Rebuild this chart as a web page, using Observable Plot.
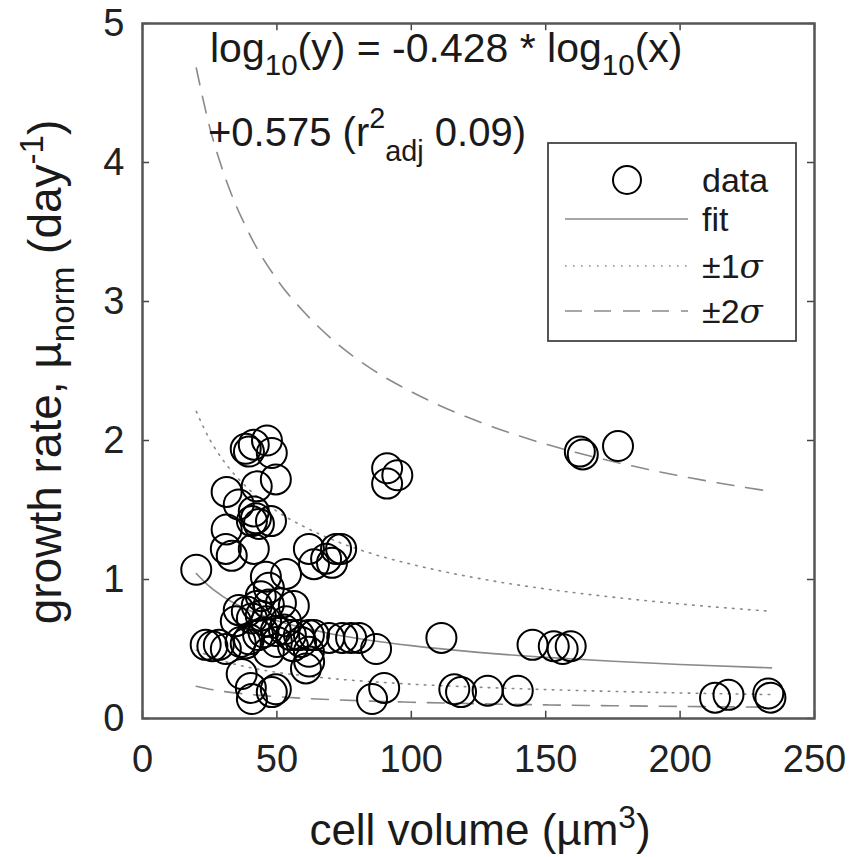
<!DOCTYPE html>
<html>
<head>
<meta charset="utf-8">
<script src="https://cdn.jsdelivr.net/npm/d3@7"></script>
<script src="https://cdn.jsdelivr.net/npm/@observablehq/plot@0.6"></script>
<style>
  html, body { margin: 0; padding: 0; background: #fff; }
  #chart { width: 852px; height: 857px; }
</style>
</head>
<body>
<div id="chart"></div>
<script>
// ---- data ----
const volume = [20, 38.4, 41.4, 46.3, 48.1, 39.6, 49.6, 42.5, 31.3, 35.8,
  41.4, 42.2, 40.7, 43.3, 47.8, 31.3, 31, 33.2, 41.4, 45.9,
  53.4, 61.9, 68.3, 72, 63.8, 47, 35.8, 38.8, 42.5, 47,
  51.5, 56.3, 34.7, 40.7, 49.6, 52.6, 55.2, 58.2, 53.4, 61.9,
  23.5, 28.4, 31, 38.4, 39.6, 47, 61.9, 63.8, 60.8, 62,
  36.9, 40.3, 40.7, 48.1, 49.6, 69.4, 74.3, 77.6, 80.6, 86.9,
  111.2, 89.9, 85.4, 116, 118.5, 128.4, 139.6, 145.1, 153, 156.3,
  159.3, 162.7, 163.8, 176.9, 91, 94.8, 91, 73.9, 70.5, 213,
  218, 232.8, 233.6, 44, 45, 50, 56, 43, 36.5, 26,
  46, 59, 44];
const growth = [1.07, 1.94, 1.97, 2.0, 1.91, 1.92, 1.72, 1.67, 1.63, 1.54,
  1.49, 1.44, 1.42, 1.40, 1.42, 1.36, 1.22, 1.17, 1.22, 1.02,
  1.04, 1.22, 1.15, 1.22, 1.11, 0.94, 0.78, 0.77, 0.81, 0.82,
  0.83, 0.81, 0.70, 0.72, 0.63, 0.64, 0.60, 0.60, 0.70, 0.60,
  0.53, 0.53, 0.50, 0.54, 0.57, 0.48, 0.48, 0.60, 0.36, 0.41,
  0.32, 0.22, 0.14, 0.19, 0.21, 0.58, 0.58, 0.58, 0.58, 0.50,
  0.58, 0.22, 0.14, 0.21, 0.19, 0.20, 0.20, 0.53, 0.52, 0.50,
  0.52, 1.92, 1.90, 1.96, 1.80, 1.75, 1.69, 1.22, 1.12, 0.15,
  0.17, 0.18, 0.15, 0.74, 0.62, 0.55, 0.52, 0.60, 0.55, 0.52,
  0.70, 0.55, 0.88];

// fit and band curves
const curveX   = [20, 25, 30, 40, 50, 60, 70, 85, 100, 125, 150, 175, 200, 234];
const fitY     = [1.043, 0.948, 0.877, 0.775, 0.704, 0.652, 0.610, 0.561, 0.524, 0.476, 0.440, 0.412, 0.389, 0.364];
const up1Y     = [2.209, 2.008, 1.858, 1.641, 1.491, 1.381, 1.292, 1.188, 1.110, 1.008, 0.932, 0.873, 0.824, 0.771];
const lo1Y     = [0.492, 0.448, 0.414, 0.366, 0.332, 0.308, 0.288, 0.265, 0.247, 0.225, 0.208, 0.195, 0.184, 0.172];
const up2Y     = [4.680, 4.254, 3.935, 3.477, 3.159, 2.926, 2.737, 2.517, 2.351, 2.136, 1.974, 1.849, 1.745, 1.633];
const lo2Y     = [0.232, 0.211, 0.195, 0.173, 0.157, 0.145, 0.136, 0.125, 0.117, 0.106, 0.098, 0.092, 0.087, 0.081];

const xTicks = [0, 50, 100, 150, 200, 250];
const yTicks = [0, 1, 2, 3, 4, 5];
const legendLabels = ["data", "fit", "±1", "±2"];

// ---- build tables ----
const points = volume.map((v, i) => ({v, g: growth[i]}));
const mk = (ys) => curveX.map((x, i) => ({x, y: ys[i]}));
const fitLine = mk(fitY), up1 = mk(up1Y), lo1 = mk(lo1Y), up2 = mk(up2Y), lo2 = mk(lo2Y);

const FONT = "'Liberation Sans', Arial, Helvetica, sans-serif";
const GRAY = "#8a8a8a";
const tickLenX = 2.6, tickLenY = 0.052;

const plot = Plot.plot({
  width: 852, height: 857,
  marginLeft: 142, marginRight: 38, marginTop: 23, marginBottom: 139,
  x: {domain: [0, 250]},
  y: {domain: [0, 5]},
  style: {fontFamily: FONT, background: "#fff", color: "#000", overflow: "visible"},
  marks: [
    Plot.line(up2, {x: "x", y: "y", stroke: GRAY, strokeWidth: 1.6, strokeDasharray: "17 12", curve: "monotone-x"}),
    Plot.line(lo2, {x: "x", y: "y", stroke: GRAY, strokeWidth: 1.6, strokeDasharray: "17 12", curve: "monotone-x"}),
    Plot.line(up1, {x: "x", y: "y", stroke: GRAY, strokeWidth: 1.6, strokeDasharray: "1.6 6.4", curve: "monotone-x"}),
    Plot.line(lo1, {x: "x", y: "y", stroke: GRAY, strokeWidth: 1.6, strokeDasharray: "1.6 6.4", curve: "monotone-x"}),
    Plot.line(fitLine, {x: "x", y: "y", stroke: GRAY, strokeWidth: 1.6, curve: "monotone-x"}),
    Plot.dot(points, {x: "v", y: "g", r: 15, stroke: "#000", strokeWidth: 2, fill: "none"}),
    // inward ticks (box style)
    Plot.ruleX(xTicks, {x: d => d, y1: 0, y2: tickLenY, stroke: "#444", strokeWidth: 1.5}),
    Plot.ruleX(xTicks, {x: d => d, y1: 5 - tickLenY, y2: 5, stroke: "#444", strokeWidth: 1.5}),
    Plot.ruleY(yTicks, {y: d => d, x1: 0, x2: tickLenX, stroke: "#444", strokeWidth: 1.5}),
    Plot.ruleY(yTicks, {y: d => d, x1: 250 - tickLenX, x2: 250, stroke: "#444", strokeWidth: 1.5}),
    Plot.frame({stroke: "#555", strokeWidth: 2.5}),
    Plot.axisX(xTicks, {tickSize: 0, tickPadding: 27, fontSize: 38, label: null, color: "#222", tickFormat: d => String(d)}),
    Plot.axisY(yTicks, {tickSize: 0, tickPadding: 18, fontSize: 38, label: null, color: "#222", tickFormat: d => String(d)})
  ]
});

document.getElementById("chart").appendChild(plot);

// ---- text annotations, titles and legend ----
const svg = d3.select(plot);

function addText(parent, x, y, parts, size, opts = {}) {
  const t = parent.append("text")
    .attr("x", x).attr("y", y)
    .attr("font-family", FONT).attr("font-size", size)
    .attr("fill", "#1a1a1a")
    .attr("text-anchor", opts.anchor || "start");
  if (opts.transform) t.attr("transform", opts.transform);
  parts.forEach(p => {
    const s = t.append("tspan").text(p.t);
    if (p.sub) s.attr("font-size", size * 0.72).attr("dy", p.dy ?? size * 0.33);
    if (p.sup) s.attr("font-size", size * 0.72).attr("dy", p.dy ?? -size * 0.42);
    if (p.back) s.attr("dy", p.back);
    if (p.italic) s.attr("font-style", "italic").attr("font-family", "'DejaVu Serif', 'Liberation Serif', serif");
  });
  return t;
}

// equation
const eqSize = 41;
addText(svg, 210, 62, [
  {t: "log"}, {t: "10", sub: true, dy: 13}, {t: "(y) = -0.428 * log", back: -13},
  {t: "10", sub: true, dy: 13}, {t: "(x)", back: -13}
], eqSize);
addText(svg, 208, 146, [
  {t: "+0.575 (r"}, {t: "2", sup: true, dy: -18}, {t: "adj", sub: true, dy: 33},
  {t: " 0.09)", back: -15}
], 40);

// axis titles
addText(svg, 480, 845, [{t: "cell volume (µm"}, {t: "3", sup: true, dy: -17}, {t: ")", back: 17}], 44, {anchor: "middle"});
addText(svg, 0, 0, [
  {t: "growth rate, µ"}, {t: "norm", sub: true, dy: 13}, {t: " (day", back: -13},
  {t: "-1", sup: true, dy: -18}, {t: ")", back: 18}
], 46, {anchor: "middle", transform: "translate(61,372) rotate(-90)"});

// legend
const lg = svg.append("g");
lg.append("rect").attr("x", 548).attr("y", 143).attr("width", 248).attr("height", 198)
  .attr("fill", "#fff").attr("stroke", "#444").attr("stroke-width", 1.8);
lg.append("circle").attr("cx", 627).attr("cy", 180).attr("r", 14).attr("fill", "none").attr("stroke", "#000").attr("stroke-width", 2);
lg.append("line").attr("x1", 565).attr("x2", 688).attr("y1", 219).attr("y2", 219).attr("stroke", GRAY).attr("stroke-width", 1.6);
lg.append("line").attr("x1", 565).attr("x2", 688).attr("y1", 266).attr("y2", 266).attr("stroke", GRAY).attr("stroke-width", 1.6).attr("stroke-dasharray", "1.6 6.4");
lg.append("line").attr("x1", 565).attr("x2", 688).attr("y1", 311).attr("y2", 311).attr("stroke", GRAY).attr("stroke-width", 1.6).attr("stroke-dasharray", "17 12");
const ls = 34;
addText(lg, 702, 192, [{t: legendLabels[0]}], ls);
addText(lg, 702, 231, [{t: legendLabels[1]}], ls);
addText(lg, 702, 278, [{t: legendLabels[2]}, {t: "σ", italic: true}], ls);
addText(lg, 702, 323, [{t: legendLabels[3]}, {t: "σ", italic: true}], ls);
</script>
</body>
</html>
